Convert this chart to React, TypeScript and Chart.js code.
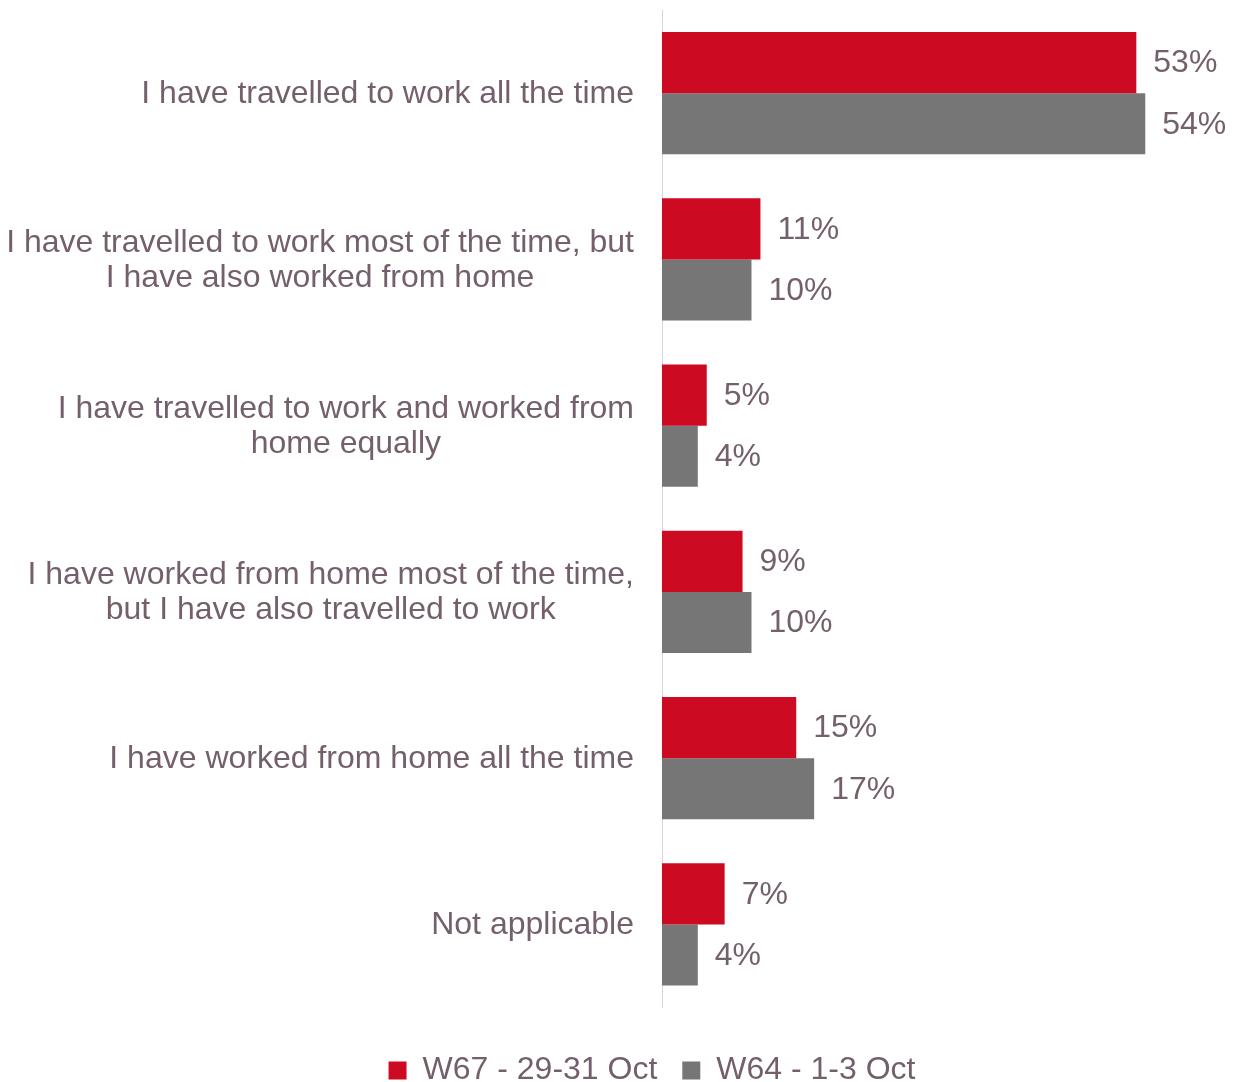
import React, { useEffect, useRef } from "react";
import { Chart, registerables } from "chart.js";

Chart.register(...registerables);

const categories: (string | string[])[] = [
  "I have travelled to work all the time",
  ["I have travelled to work most of the time, but", "I have also worked from home"],
  ["I have travelled to work and worked from", "home equally"],
  ["I have worked from home most of the time,", "but I have also travelled to work"],
  "I have worked from home all the time",
  "Not applicable",
];
const seriesNames = ["W67 - 29-31 Oct", "W64 - 1-3 Oct"];
const seriesW67 = [53, 11, 5, 9, 15, 7];
const seriesW64 = [54, 10, 4, 10, 17, 4];

const FONT = '"Liberation Sans", Arial, sans-serif';
const TEXT = "#745F6C";
const RED = "#CC0A21";
const GRAY = "#767676";

export default function App() {
  const ref = useRef<HTMLCanvasElement>(null);
  useEffect(() => {
    document.body.style.margin = "0";
    if (!ref.current) return;
    const labelPlugin = {
      id: "catLabels",
      afterDraw(chart: any) {
        const ctx = chart.ctx;
        const y = chart.scales.y;
        const area = chart.chartArea;
        ctx.save();
        ctx.font = `32px ${FONT}`;
        ctx.fillStyle = TEXT;
        ctx.textBaseline = "middle";
        ctx.textAlign = "center";
        categories.forEach((c, i) => {
          const lines = Array.isArray(c) ? c : [c];
          const maxW = Math.max(...lines.map((l) => ctx.measureText(l).width));
          const right = area.left - 28;
          const cx = right - maxW / 2;
          const cy = y.getPixelForValue(i);
          const lh = 35;
          lines.forEach((l, j) =>
            ctx.fillText(l, cx, cy + 1 + (j - (lines.length - 1) / 2) * lh)
          );
        });
        ctx.textAlign = "left";
        chart.data.datasets.forEach((ds: any, di: number) => {
          const meta = chart.getDatasetMeta(di);
          meta.data.forEach((bar: any, i: number) => {
            ctx.fillText(`${ds.data[i]}%`, bar.x + 17, bar.y + 1);
          });
        });
        ctx.restore();
      },
    };
    const chart = new Chart(ref.current, {
      type: "bar",
      data: {
        labels: categories.map((c) => (Array.isArray(c) ? c.join(" ") : c)),
        datasets: [
          {
            label: seriesNames[0],
            data: seriesW67,
            backgroundColor: RED,
            barPercentage: 1,
            categoryPercentage: 0.735,
          },
          {
            label: seriesNames[1],
            data: seriesW64,
            backgroundColor: GRAY,
            barPercentage: 1,
            categoryPercentage: 0.735,
          },
        ],
      },
      options: {
        indexAxis: "y",
        animation: false,
        responsive: false,
        layout: { padding: { left: 67, top: 10, right: 0, bottom: -14.5 } },
        scales: {
          x: {
            min: 0,
            max: 64.25,
            grid: { display: false },
            border: { display: false },
            ticks: { display: false },
            afterFit: (s: any) => {
              s.height = 22;
            },
          },
          y: {
            grid: { display: false },
            border: { display: true, color: "#DCD3D8", width: 1 },
            ticks: { display: false },
            afterFit: (s: any) => {
              s.width = 595;
            },
          },
        },
        plugins: {
          tooltip: { enabled: false },
          legend: {
            position: "bottom",
            labels: {
              boxWidth: 18,
              boxHeight: 18,
              padding: 25,
              color: TEXT,
              font: { size: 32, family: FONT },
            },
          },
        },
      },
      plugins: [labelPlugin],
    });
    return () => chart.destroy();
  }, []);
  return <canvas ref={ref} width={1237} height={1082} style={{ display: "block" }} />;
}
